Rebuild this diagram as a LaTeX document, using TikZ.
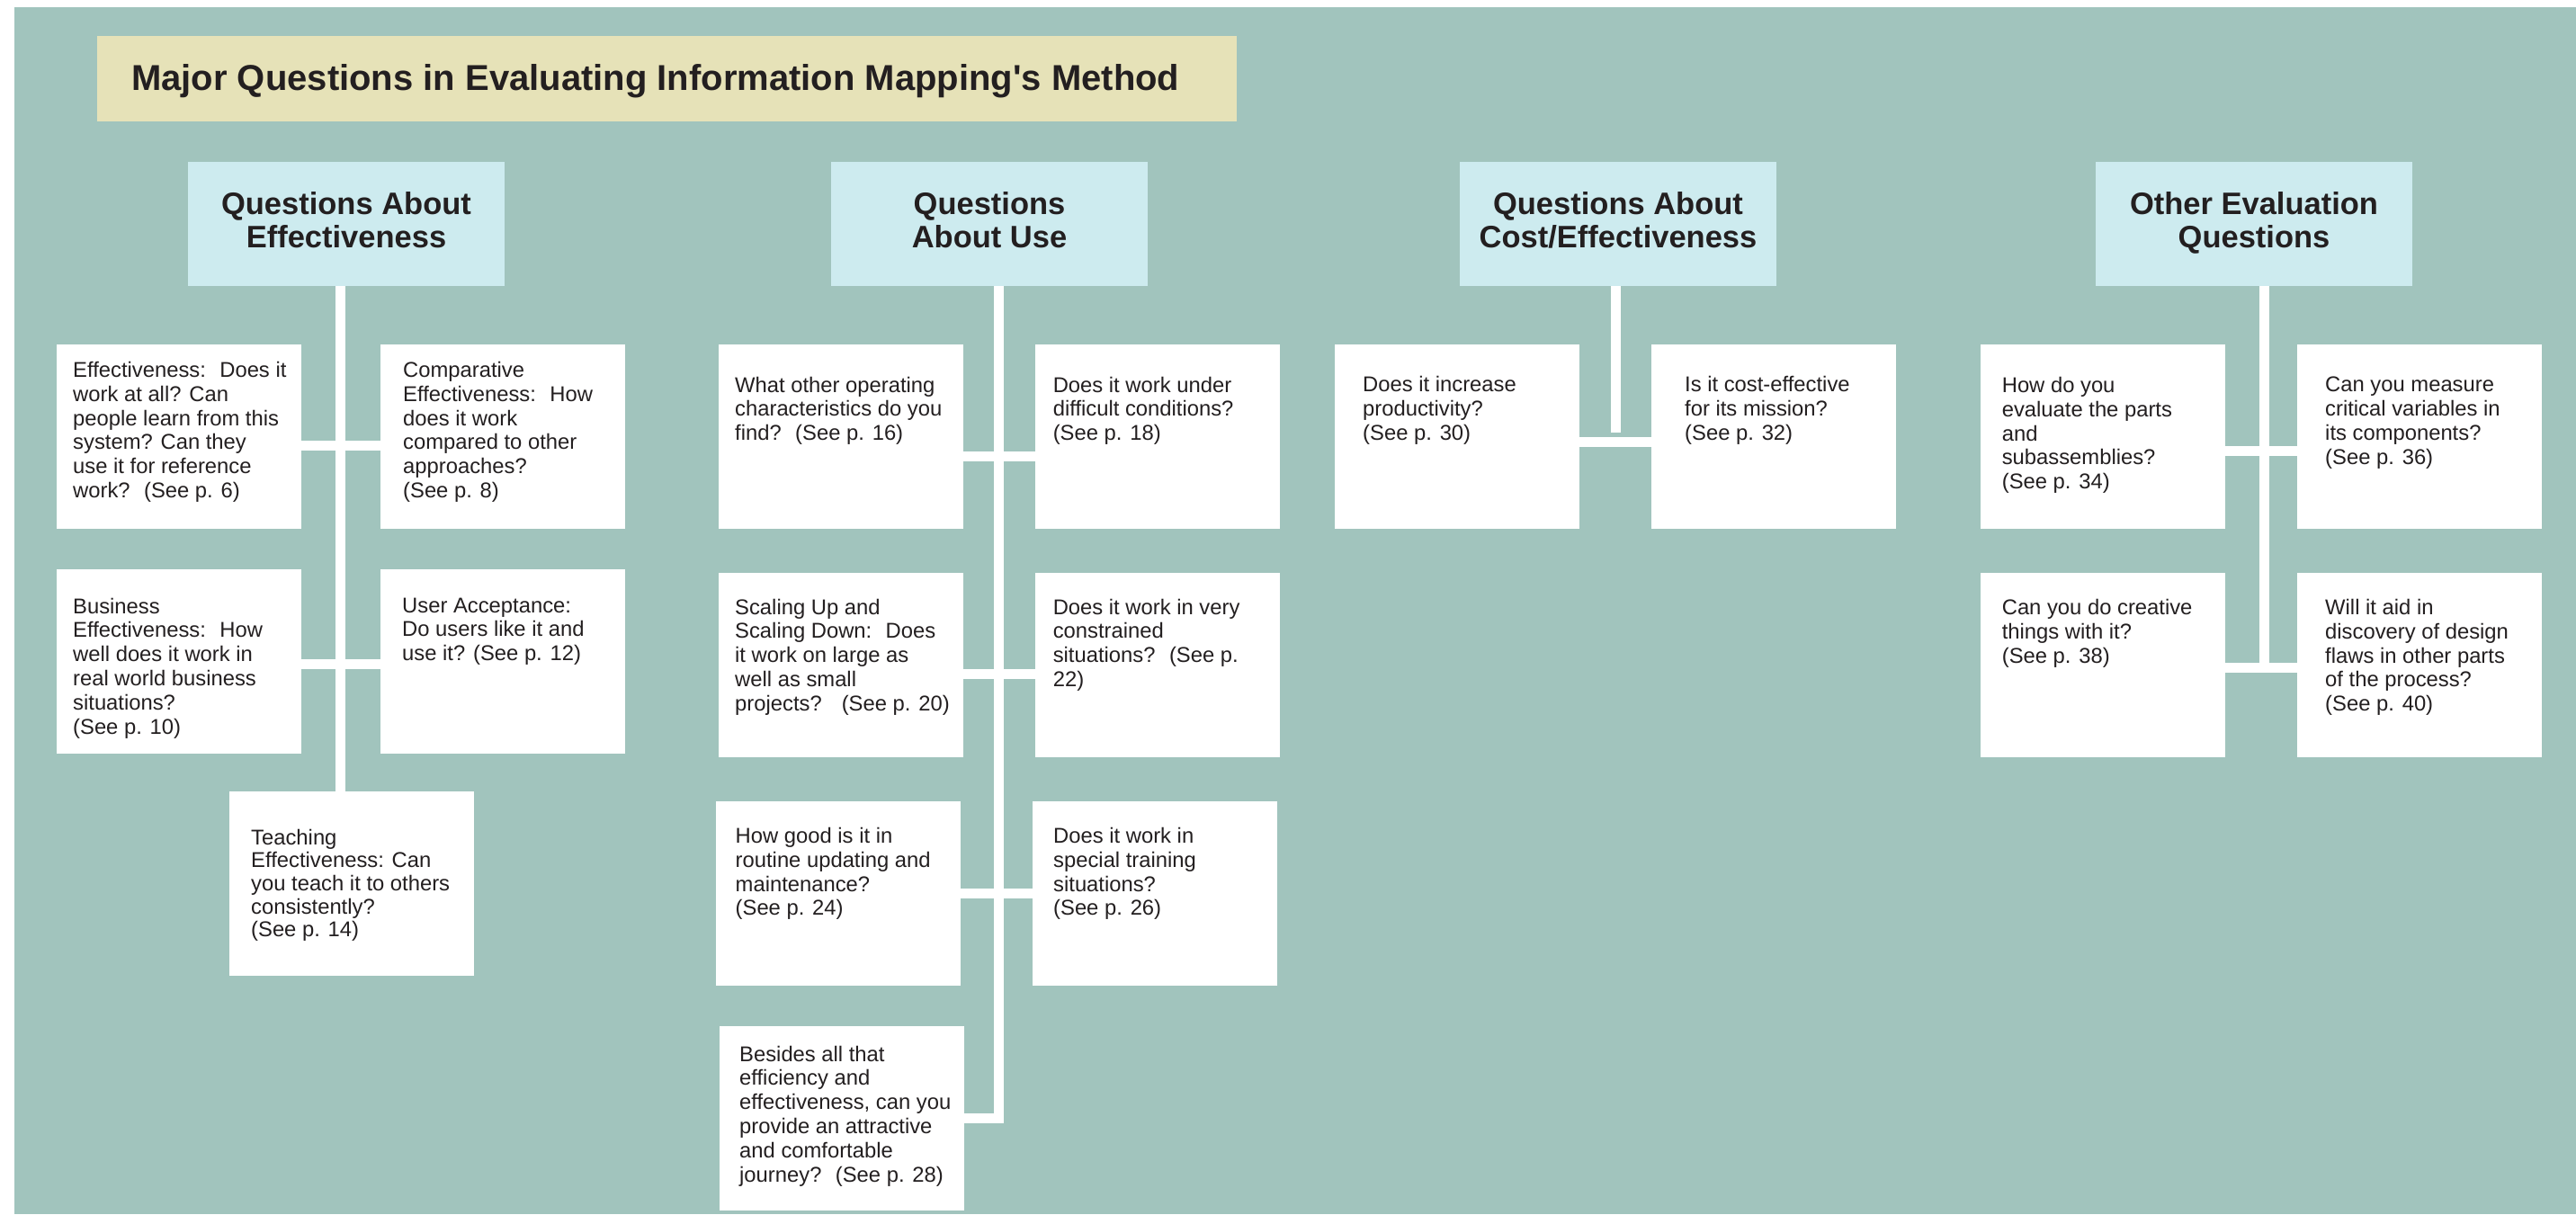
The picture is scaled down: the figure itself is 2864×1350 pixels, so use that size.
\documentclass[tikz,border=0pt]{standalone}
\usepackage{fontspec}
\setmainfont{Liberation Sans}
\definecolor{bgteal}{RGB}{161,196,189}
\definecolor{hdrblue}{RGB}{205,235,239}
\definecolor{titlebg}{RGB}{230,226,184}
\definecolor{txt}{RGB}{35,31,32}
\begin{document}
\begin{tikzpicture}[x=1pt,y=-1pt,
  box/.style={fill=white, anchor=north west, inner sep=0pt, minimum width=272pt, minimum height=205pt},
  hdr/.style={fill=hdrblue, inner sep=0pt, minimum width=352pt, minimum height=138pt, align=center,
    font=\bfseries\fontsize{34.5}{36.5}\selectfont, text=txt, text depth=8.7pt},
  qtext/.style={anchor=north west, align=left, inner sep=0pt, font=\fontsize{23.8}{26.8}\selectfont, text=txt,
    execute at begin node={\rule{0pt}{18pt}}},
  conn/.style={draw=white, line width=11pt, line join=miter},
]
\useasboundingbox (0,0) rectangle (2864,1350);
\fill[white] (0,0) rectangle (2864,1350);
\fill[bgteal] (16,8) rectangle (2864,1350);

% title
\node[fill=titlebg, anchor=north west, inner sep=0pt, minimum width=1267pt, minimum height=95pt] (titlebox) at (108,40) {};
\node[anchor=base west, inner sep=0pt, font=\bfseries\fontsize{40}{48}\selectfont, text=txt] (titletext) at (146,100)
  {Major Questions in Evaluating Information Mapping\textquotesingle s Method};

% headers
\node[hdr] (h1) at (385,249) {Questions About\\Effectiveness};
\node[hdr] (h2) at (1100,249) {Questions\\About Use};
\node[hdr] (h3) at (1799,249) {Questions About\\Cost/Effectiveness};
\node[hdr] (h4) at (2506,249) {Other Evaluation\\Questions};

% effectiveness group
\node[box] (e1) at (63,383) {};
\node[box] (e2) at (423,383) {};
\node[box] (e3) at (63,633) {};
\node[box] (e4) at (423,633) {};
\node[box] (e5) at (255,880) {};
% use group
\node[box] (u1) at (799,383) {};
\node[box] (u2) at (1151,383) {};
\node[box] (u3) at (799,637) {};
\node[box] (u4) at (1151,637) {};
\node[box] (u5) at (796,891) {};
\node[box] (u6) at (1148,891) {};
\node[box] (u7) at (800,1141) {};
% cost group
\node[box] (c1) at (1484,383) {};
\node[box] (c2) at (1836,383) {};
% other group
\node[box] (o1) at (2202,383) {};
\node[box] (o2) at (2554,383) {};
\node[box] (o3) at (2202,637) {};
\node[box] (o4) at (2554,637) {};

% connectors
\draw[conn] ([xshift=-7pt]h1.south) -- ([xshift=-7pt]h1.south |- e5.north);
\draw[conn] ([yshift=-9.5pt]e1.east) -- ([yshift=-9.5pt]e2.west);
\draw[conn] ([yshift=-2.5pt]e3.east) -- ([yshift=-2.5pt]e4.west);

\draw[conn] ([xshift=10pt]h2.south) |- (u7.east);
\draw[conn] ([yshift=-22pt]u1.east) -- ([yshift=-22pt]u2.west);
\draw[conn] ([yshift=-10pt]u3.east) -- ([yshift=-10pt]u4.west);
\draw[conn] (u5.east) -- (u6.west);

\draw[conn] ([xshift=-3pt]h3.south) -- ([xshift=-3pt,yshift=5pt]h3.south |- c1.east);
\draw[conn] ([yshift=-5.5pt]c1.east) -- ([yshift=-5.5pt]c2.west);

\draw[conn] ([xshift=11pt]h4.south) -- ([xshift=11pt,yshift=-8.5pt]h4.south |- o3.east);
\draw[conn] ([yshift=-16pt]o1.east) -- ([yshift=-16pt]o2.west);
\draw[conn] ([yshift=-3pt]o3.east) -- ([yshift=-3pt]o4.west);

% texts (placed 20pt above the first baseline; the strut is 18pt)
\node[qtext] (e1t) at (81,402) {Effectiveness: \ Does it\\work at all? Can\\people learn from this\\system? Can they\\use it for reference\\work? \ (See p. 6)};
\node[qtext] (e2t) at (448,402) {Comparative\\Effectiveness: \ How\\does it work\\compared to other\\approaches?\\(See p. 8)};
\node[qtext] (e3t) at (81,664.6) {Business\\Effectiveness: \ How\\well does it work in\\real world business\\situations?\\(See p. 10)};
\node[qtext] (e4t) at (447,664.6) {User Acceptance:\\Do users like it and\\use it? (See p. 12)};
\node[qtext, font=\fontsize{23.8}{25.7}\selectfont] (e5t) at (279,921.7) {Teaching\\Effectiveness: Can\\you teach it to others\\consistently?\\(See p. 14)};

\node[qtext] (u1t) at (817,418.6) {What other operating\\characteristics do you\\find? \ (See p. 16)};
\node[qtext] (u2t) at (1170.6,418.6) {Does it work under\\difficult conditions?\\(See p. 18)};
\node[qtext] (u3t) at (817,665.7) {Scaling Up and\\Scaling Down: \ Does\\it work on large as\\well as small\\projects? \ \ (See p. 20)};
\node[qtext] (u4t) at (1170.6,665.7) {Does it work in very\\constrained\\situations? \ (See p.\\22)};
\node[qtext] (u5t) at (817.5,920) {How good is it in\\routine updating and\\maintenance?\\(See p. 24)};
\node[qtext] (u6t) at (1171,920) {Does it work in\\special training\\situations?\\(See p. 26)};
\node[qtext] (u7t) at (822,1162.7) {Besides all that\\efficiency and\\effectiveness, can you\\provide an attractive\\and comfortable\\journey? \ (See p. 28)};

\node[qtext] (c1t) at (1515,418) {Does it increase\\productivity?\\(See p. 30)};
\node[qtext] (c2t) at (1873,418) {Is it cost-effective\\for its mission?\\(See p. 32)};

\node[qtext] (o1t) at (2225.6,419) {How do you\\evaluate the parts\\and\\subassemblies?\\(See p. 34)};
\node[qtext] (o2t) at (2585,419) {Can you measure\\critical variables in\\its components?\\(See p. 36)};
\node[qtext] (o3t) at (2225.6,666) {Can you do creative\\things with it?\\(See p. 38)};
\node[qtext] (o4t) at (2585,666) {Will it aid in\\discovery of design\\flaws in other parts\\of the process?\\(See p. 40)};
\end{tikzpicture}
\end{document}
